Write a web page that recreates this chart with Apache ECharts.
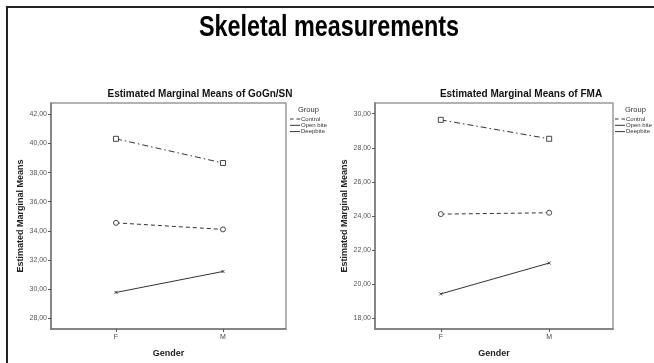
<!DOCTYPE html>
<html>
<head>
<meta charset="utf-8">
<script src="https://cdn.jsdelivr.net/npm/echarts@6/dist/echarts.min.js"></script>
<style>html,body{margin:0;padding:0;background:#fff;}#c{width:654px;height:363px;}</style>
</head>
<body>
<div id="c"></div>
<script>
// ---- data ----
var mainTitle = 'Skeletal measurements';
var genders = ['F', 'M'];
var groups = ['Control', 'Open bite', 'Deepbite'];
var chartTitles = ['Estimated Marginal Means of GoGn/SN', 'Estimated Marginal Means of FMA'];
var gognControl = [40.32, 38.66];
var gognOpenBite = [34.55, 34.10];
var gognDeepbite = [29.77, 31.21];
var fmaControl = [29.64, 28.53];
var fmaOpenBite = [24.11, 24.19];
var fmaDeepbite = [19.43, 21.24];
var gognTicks = [28, 30, 32, 34, 36, 38, 40, 42];
var fmaTicks = [18, 20, 22, 24, 26, 28, 30];
var yName = 'Estimated Marginal Means';
var xName = 'Gender';
var legendTitle = 'Group';

var chart = echarts.init(document.getElementById('c'), null, {renderer: 'canvas'});
var FONT = '"Liberation Sans", Arial, sans-serif';
var dark = '#333';

function pts(vals) { return genders.map(function (g, i) { return [i, vals[i]]; }); }
function fmt(v) { return v.toFixed(2).replace('.', ','); }

var styles = [
  {symbol: 'rect', size: 5, type: [6, 3, 1.5, 3]},
  {symbol: 'circle', size: 5, type: [4, 3]},
  {symbol: 'path://M0,0L10,10M10,0L0,10', size: 3, type: 'solid'}
];
var dashIcon = 'path://M0,0h3.5v1h-3.5z M6.5,0h3.5v1h-3.5z';
var solidIcon = 'path://M0,0h10v1h-10z';

function mkSeries(gi, vals, name, k) {
  var s = styles[k];
  return {
    type: 'line', name: name, xAxisIndex: gi, yAxisIndex: gi,
    data: pts(vals), symbol: s.symbol, symbolSize: s.size,
    itemStyle: {color: '#fff', borderColor: dark, borderWidth: 0.9},
    lineStyle: {color: dark, width: 1, type: s.type},
    emphasis: {disabled: true}, silent: true, animation: false, z: 3
  };
}

function xAxis(gi) {
  return {
    type: 'value', gridIndex: gi, min: -0.607, max: 1.589,
    name: xName, nameLocation: 'middle', nameGap: 20,
    nameTextStyle: {fontFamily: FONT, fontWeight: 'bold', fontSize: 9, color: '#222'},
    axisLine: {show: true, onZero: false, lineStyle: {color: '#777', width: 1.5}},
    axisTick: {show: true, length: 3, customValues: [0, 1], lineStyle: {color: '#555'}},
    axisLabel: {customValues: [0, 1], formatter: function (v) { return genders[v]; },
      fontFamily: FONT, fontSize: 7, color: '#444', margin: 5},
    splitLine: {show: false}
  };
}
function yAxis(gi, min, max, ticks) {
  return {
    type: 'value', gridIndex: gi, min: min, max: max,
    name: yName, nameLocation: 'middle', nameGap: 26, nameRotate: 90,
    nameTextStyle: {fontFamily: FONT, fontWeight: 'bold', fontSize: 9, color: '#222'},
    axisLine: {show: true, onZero: false, lineStyle: {color: '#777', width: 1.5}},
    axisTick: {show: true, length: 3, customValues: ticks, lineStyle: {color: '#555'}},
    axisLabel: {customValues: ticks, formatter: fmt, fontFamily: FONT, fontSize: 7, color: '#555', margin: 4},
    splitLine: {show: false}
  };
}
function legend(left) {
  return {
    orient: 'vertical', left: left, top: 116, padding: 0,
    itemWidth: 10, itemHeight: 1, itemGap: 0.3,
    selectedMode: false,
    textStyle: {fontFamily: FONT, fontSize: 6, color: dark, lineHeight: 5, padding: [0, 0, 0, -4]},
    itemStyle: {color: dark, borderWidth: 0},
    data: [
      {name: groups[0], icon: dashIcon},
      {name: groups[1], icon: solidIcon},
      {name: groups[2], icon: solidIcon}
    ]
  };
}

chart.setOption({
  backgroundColor: '#fff',
  animation: false,
  title: [
    {text: chartTitles[0], left: 200, top: 89, padding: 0, textAlign: 'center',
      textStyle: {fontFamily: FONT, fontWeight: 'bold', fontSize: 10, color: '#111'}},
    {text: chartTitles[1], left: 521, top: 89, padding: 0, textAlign: 'center',
      textStyle: {fontFamily: FONT, fontWeight: 'bold', fontSize: 10, color: '#111'}},
    {text: legendTitle, left: 298, top: 106, padding: 0,
      textStyle: {fontFamily: FONT, fontWeight: 'normal', fontSize: 7.5, color: dark}},
    {text: legendTitle, left: 625, top: 106, padding: 0,
      textStyle: {fontFamily: FONT, fontWeight: 'normal', fontSize: 7.5, color: dark}}
  ],
  legend: [legend(290), legend(615)],
  grid: [
    {left: 51, top: 103, width: 235, height: 230, show: true, borderColor: '#999', borderWidth: 1.5},
    {left: 375, top: 103, width: 238, height: 230, show: true, borderColor: '#999', borderWidth: 1.5}
  ],
  xAxis: [xAxis(0), xAxis(1)],
  yAxis: [yAxis(0, 27.26, 42.78, gognTicks), yAxis(1, 17.37, 30.63, fmaTicks)],
  series: [
    mkSeries(0, gognControl, groups[0], 0),
    mkSeries(0, gognOpenBite, groups[1], 1),
    mkSeries(0, gognDeepbite, groups[2], 2),
    mkSeries(1, fmaControl, groups[0], 0),
    mkSeries(1, fmaOpenBite, groups[1], 1),
    mkSeries(1, fmaDeepbite, groups[2], 2)
  ],
  graphic: [
    {type: 'rect', shape: {x: 7, y: 7, width: 700, height: 400}, silent: true,
      style: {fill: 'none', stroke: '#222', lineWidth: 2}, z: 100},
    {type: 'text', x: 329, y: 28, scaleX: 0.78, silent: true,
      style: {text: mainTitle, fill: '#000', align: 'center', verticalAlign: 'middle',
        font: 'bold 30px ' + FONT}}
  ]
});
</script>
</body>
</html>
